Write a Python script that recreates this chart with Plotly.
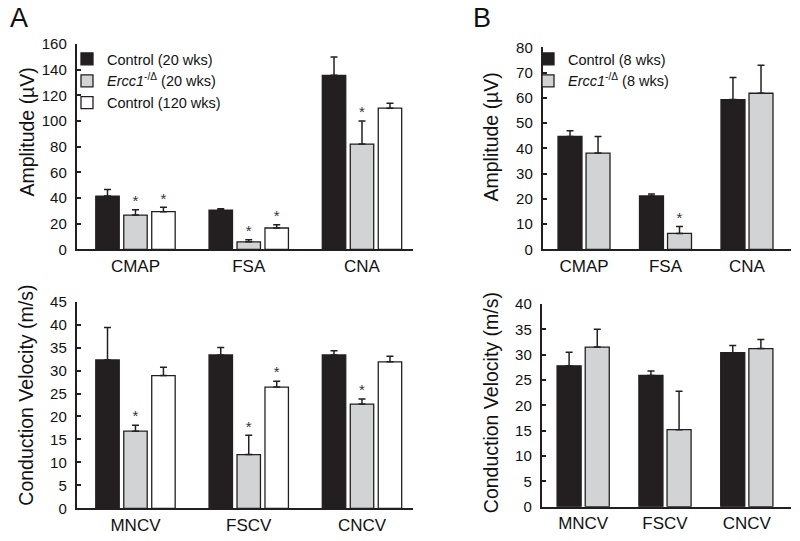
import plotly.graph_objects as go

# ---------------- data ----------------
A_amp_cats = ["CMAP", "FSA", "CNA"]
A_amp_ctrl20 = [41.5, 30.6, 135.6]
A_amp_ctrl20_err = [5.2, 1.0, 14.3]
A_amp_ercc = [26.7, 5.8, 82.0]
A_amp_ercc_err = [4.2, 1.6, 18.0]
A_amp_ctrl120 = [29.3, 16.6, 110.0]
A_amp_ctrl120_err = [3.4, 2.6, 3.8]
A_amp_ercc_sig = [True, True, True]
A_amp_ctrl120_sig = [True, True, False]

A_cv_cats = ["MNCV", "FSCV", "CNCV"]
A_cv_ctrl20 = [32.3, 33.4, 33.4]
A_cv_ctrl20_err = [7.1, 1.6, 0.9]
A_cv_ercc = [16.8, 11.7, 22.7]
A_cv_ercc_err = [1.3, 4.2, 1.1]
A_cv_ctrl120 = [28.9, 26.4, 31.9]
A_cv_ctrl120_err = [1.8, 1.3, 1.2]
A_cv_ercc_sig = [True, True, True]
A_cv_ctrl120_sig = [False, True, False]

B_amp_cats = ["CMAP", "FSA", "CNA"]
B_amp_ctrl8 = [44.7, 21.1, 59.3]
B_amp_ctrl8_err = [2.3, 0.8, 8.7]
B_amp_ercc = [38.1, 6.3, 61.8]
B_amp_ercc_err = [6.6, 2.7, 11.1]
B_amp_ercc_sig = [False, True, False]

B_cv_cats = ["MNCV", "FSCV", "CNCV"]
B_cv_ctrl8 = [27.8, 25.9, 30.4]
B_cv_ctrl8_err = [2.7, 0.9, 1.4]
B_cv_ercc = [31.5, 15.2, 31.2]
B_cv_ercc_err = [3.5, 7.6, 1.8]
B_cv_ercc_sig = [False, False, False]

AMP_TITLE = "Amplitude (\u00b5V)"
CV_TITLE = "Conduction Velocity (m/s)"

# ---------------- style ----------------
FONT = "Liberation Sans, Arial, Helvetica, sans-serif"
TXT = "#111111"
BLACK = "#231f20"
GRAY = "#d1d3d4"
WHITE = "#ffffff"
W, H = 800, 541

fig = go.Figure()


def px_x(p):
    return p / W


def px_y(p):
    return 1 - p / H


def add_bars(xref, yref, cats, series, width, legend=None):
    for (name, vals, errs, sig, color, off, show) in series:
        xs = [i + off for i in range(len(cats))]
        fig.add_trace(go.Bar(
            x=xs, y=vals, width=width, name=name,
            marker=dict(color=color, line=dict(color=BLACK, width=1.3)),
            error_y=dict(type="data", array=errs, arrayminus=[0] * len(errs),
                         symmetric=False, color=BLACK, thickness=1.5, width=3.5),
            xaxis=xref, yaxis=yref, showlegend=show, legend=legend,
        ))
        if sig is not None:
            sx = [x for x, s in zip(xs, sig) if s]
            sy = [v + e for v, e, s in zip(vals, errs, sig) if s]
            if sx:
                fig.add_trace(go.Scatter(
                    x=sx, y=sy, mode="text", text=["*"] * len(sx),
                    textposition="top center",
                    textfont=dict(family=FONT, size=15, color="#333333"),
                    xaxis=xref, yaxis=yref, showlegend=False, cliponaxis=False,
                    hoverinfo="skip",
                ))


ercc20 = "<i>Ercc1</i><sup>-/\u0394</sup> (20 wks)"
ercc8 = "<i>Ercc1</i><sup>-/\u0394</sup> (8 wks)"

wA, dA = 0.207, 0.247
wB, dB = 0.294, 0.172

add_bars("x", "y", A_amp_cats, [
    ("Control (20 wks)", A_amp_ctrl20, A_amp_ctrl20_err, None, BLACK, -dA, True),
    (ercc20, A_amp_ercc, A_amp_ercc_err, A_amp_ercc_sig, GRAY, 0, True),
    ("Control (120 wks)", A_amp_ctrl120, A_amp_ctrl120_err, A_amp_ctrl120_sig, WHITE, dA, True),
], wA, "legend")
add_bars("x2", "y2", A_cv_cats, [
    ("Control (20 wks)", A_cv_ctrl20, A_cv_ctrl20_err, None, BLACK, -dA, False),
    (ercc20, A_cv_ercc, A_cv_ercc_err, A_cv_ercc_sig, GRAY, 0, False),
    ("Control (120 wks)", A_cv_ctrl120, A_cv_ctrl120_err, A_cv_ctrl120_sig, WHITE, dA, False),
], wA)
add_bars("x3", "y3", B_amp_cats, [
    ("Control (8 wks)", B_amp_ctrl8, B_amp_ctrl8_err, None, BLACK, -dB, True),
    (ercc8, B_amp_ercc, B_amp_ercc_err, B_amp_ercc_sig, GRAY, dB, True),
], wB, "legend2")
add_bars("x4", "y4", B_cv_cats, [
    ("Control (8 wks)", B_cv_ctrl8, B_cv_ctrl8_err, None, BLACK, -dB, False),
    (ercc8, B_cv_ercc, B_cv_ercc_err, B_cv_ercc_sig, GRAY, dB, False),
], wB)


def xaxis(domain, rng, cats, anchor):
    return dict(domain=domain, range=rng, tickvals=list(range(len(cats))),
                ticktext=cats, showline=True, linecolor=BLACK, linewidth=2,
                ticks="", showgrid=False, zeroline=False, anchor=anchor,
                automargin=False,
                tickfont=dict(family=FONT, size=17, color=TXT))


def yaxis(domain, rng, dtick, anchor):
    return dict(domain=domain, range=rng, dtick=dtick, tick0=0,
                showline=True, linecolor=BLACK, linewidth=1.8,
                ticks="inside", ticklen=4, tickwidth=1.5, tickcolor=BLACK,
                showgrid=False, zeroline=False, anchor=anchor,
                automargin=False, ticklabelstandoff=5,
                tickfont=dict(family=FONT, size=15, color=TXT))


def ytitle(text, cx, cy):
    return dict(text=text, x=px_x(cx), y=px_y(cy), xref="paper", yref="paper",
                xanchor="center", yanchor="middle", textangle=-90,
                showarrow=False, font=dict(family=FONT, size=19.5, color=TXT))


def letter(text, lx):
    return dict(text=text, x=px_x(lx), y=px_y(18), xref="paper", yref="paper",
                xanchor="left", yanchor="middle", showarrow=False,
                font=dict(family=FONT, size=27, color=TXT))


dxA = [px_x(76.7), px_x(413.3)]
fig.update_layout(
    template="none",
    font=dict(family=FONT, color=TXT),
    width=W, height=H,
    margin=dict(l=0, r=0, t=0, b=0, pad=0),
    paper_bgcolor="white", plot_bgcolor="white",
    barmode="overlay",
    xaxis=xaxis(dxA, [-0.519, 2.453], A_amp_cats, "y"),
    yaxis=yaxis([px_y(249.3), px_y(44)], [0, 160], 20, "x"),
    xaxis2=xaxis(dxA, [-0.519, 2.453], A_cv_cats, "y2"),
    yaxis2=yaxis([px_y(508.3), px_y(301.7)], [0, 45], 5, "x2"),
    xaxis3=xaxis([px_x(542.7), px_x(791)], [-0.507, 2.54], B_amp_cats, "y3"),
    yaxis3=yaxis([px_y(249.3), px_y(47.3)], [0, 80], 10, "x3"),
    xaxis4=xaxis([px_x(541.7), px_x(791)], [-0.507, 2.54], B_cv_cats, "y4"),
    yaxis4=yaxis([px_y(506.7), px_y(304)], [0, 40], 5, "x4"),
    legend=dict(x=px_x(67), y=px_y(43), xanchor="left", yanchor="top",
                bgcolor="rgba(0,0,0,0)", borderwidth=0,
                font=dict(family=FONT, size=14.5, color=TXT)),
    legend2=dict(x=px_x(528), y=px_y(43), xanchor="left", yanchor="top",
                 bgcolor="rgba(0,0,0,0)", borderwidth=0,
                 font=dict(family=FONT, size=14.5, color=TXT)),
    annotations=[
        letter("A", 8),
        letter("B", 471),
        ytitle(AMP_TITLE, 26, 132.5),
        ytitle(CV_TITLE, 26, 395.7),
        ytitle(AMP_TITLE, 490.5, 137),
        ytitle(CV_TITLE, 490.5, 402.7),
    ],
)

fig.write_html(
    "out.html",
    config={"displayModeBar": False},
    post_script="document.body.style.margin='0';document.body.style.overflow='hidden';",
)
